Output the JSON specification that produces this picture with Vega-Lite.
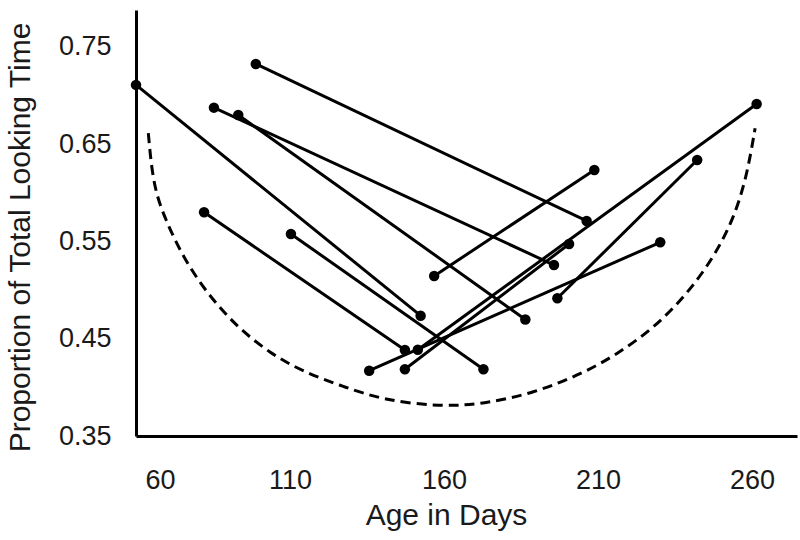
{
  "$schema": "https://vega.github.io/schema/vega-lite/v6.json",
  "width": 661,
  "height": 426,
  "autosize": {"type": "none"},
  "padding": {"left": 136, "top": 10, "right": 3, "bottom": 104},
  "background": "white",
  "config": {
    "view": {"stroke": null},
    "font": "Liberation Sans",
    "axis": {
      "grid": false,
      "ticks": false,
      "domainColor": "#000000",
      "domainWidth": 3,
      "labelFont": "Liberation Sans",
      "labelFontSize": 27,
      "labelColor": "#1a1a1a",
      "titleFont": "Liberation Sans",
      "titleFontSize": 30,
      "titleFontWeight": "normal",
      "titleColor": "#1a1a1a"
    }
  },
  "datasets": {
    "segs": [
      {"seg": "A", "day": 60.0, "prop": 0.711},
      {"seg": "A", "day": 152.4, "prop": 0.4737},
      {"seg": "B", "day": 98.9, "prop": 0.7325},
      {"seg": "B", "day": 206.3, "prop": 0.5711},
      {"seg": "C", "day": 85.3, "prop": 0.6876},
      {"seg": "C", "day": 195.7, "prop": 0.5258},
      {"seg": "D", "day": 93.2, "prop": 0.6801},
      {"seg": "D", "day": 186.4, "prop": 0.4698},
      {"seg": "E", "day": 82.1, "prop": 0.58},
      {"seg": "E", "day": 147.3, "prop": 0.4384},
      {"seg": "F", "day": 110.3, "prop": 0.5577},
      {"seg": "F", "day": 172.8, "prop": 0.4186},
      {"seg": "G", "day": 156.8, "prop": 0.5145},
      {"seg": "G", "day": 208.8, "prop": 0.6235},
      {"seg": "H", "day": 196.8, "prop": 0.4916},
      {"seg": "H", "day": 242.2, "prop": 0.6338},
      {"seg": "I", "day": 151.5, "prop": 0.4387},
      {"seg": "I", "day": 261.5, "prop": 0.6914},
      {"seg": "J", "day": 135.7, "prop": 0.4171},
      {"seg": "J", "day": 230.2, "prop": 0.5492},
      {"seg": "K", "day": 147.3, "prop": 0.4186},
      {"seg": "K", "day": 200.6, "prop": 0.5474}
    ],
    "curve": [
      {"day": 64.0, "prop": 0.6613},
      {"day": 65.6, "prop": 0.6064},
      {"day": 69.6, "prop": 0.5721},
      {"day": 75.2, "prop": 0.5344},
      {"day": 83.0, "prop": 0.4967},
      {"day": 92.7, "prop": 0.4624},
      {"day": 103.5, "prop": 0.435},
      {"day": 114.3, "prop": 0.4161},
      {"day": 127.3, "prop": 0.4007},
      {"day": 140.3, "prop": 0.387},
      {"day": 158.7, "prop": 0.3801},
      {"day": 172.8, "prop": 0.3829},
      {"day": 189.0, "prop": 0.3939},
      {"day": 205.2, "prop": 0.4145},
      {"day": 216.1, "prop": 0.434},
      {"day": 228.0, "prop": 0.4605},
      {"day": 238.8, "prop": 0.4955},
      {"day": 247.4, "prop": 0.5330},
      {"day": 253.9, "prop": 0.5721},
      {"day": 258.3, "prop": 0.6166},
      {"day": 261.0, "prop": 0.6664}
    ]
  },
  "layer": [
    {
      "data": {"name": "curve"},
      "mark": {"type": "line", "color": "#000000", "strokeWidth": 3, "strokeDash": [10, 6], "interpolate": "basis"},
      "encoding": {
        "x": {
          "field": "day", "type": "quantitative",
          "scale": {"domain": [60, 274.6], "nice": false, "zero": false},
          "axis": {
            "title": "Age in Days",
            "values": [60, 110, 160, 210, 260],
            "labelFlush": false,
            "labelPadding": 31,
            "labelOffset": {"condition": {"test": "datum.value == 60", "value": 24}, "value": 0},
            "titleX": 310,
            "titleY": 88,
            "titleBaseline": "alphabetic",
            "titleAlign": "center"
          }
        },
        "y": {
          "field": "prop", "type": "quantitative",
          "scale": {"domain": [0.35, 0.788], "nice": false, "zero": false},
          "axis": {
            "title": "Proportion of Total Looking Time",
            "values": [0.35, 0.45, 0.55, 0.65, 0.75],
            "format": ".2f",
            "labelPadding": 25,
            "titleX": -116,
            "titleY": 227,
            "titleAngle": -90,
            "titleAlign": "center",
            "titleBaseline": "middle"
          }
        },
        "order": {"field": "day", "type": "quantitative"}
      }
    },
    {
      "data": {"name": "segs"},
      "mark": {"type": "line", "color": "#000000", "strokeWidth": 3},
      "encoding": {
        "x": {"field": "day", "type": "quantitative"},
        "y": {"field": "prop", "type": "quantitative"},
        "detail": {"field": "seg", "type": "nominal"}
      }
    },
    {
      "data": {"name": "segs"},
      "mark": {"type": "point", "filled": true, "color": "#000000", "opacity": 1, "size": 110},
      "encoding": {
        "x": {"field": "day", "type": "quantitative"},
        "y": {"field": "prop", "type": "quantitative"}
      }
    }
  ]
}
